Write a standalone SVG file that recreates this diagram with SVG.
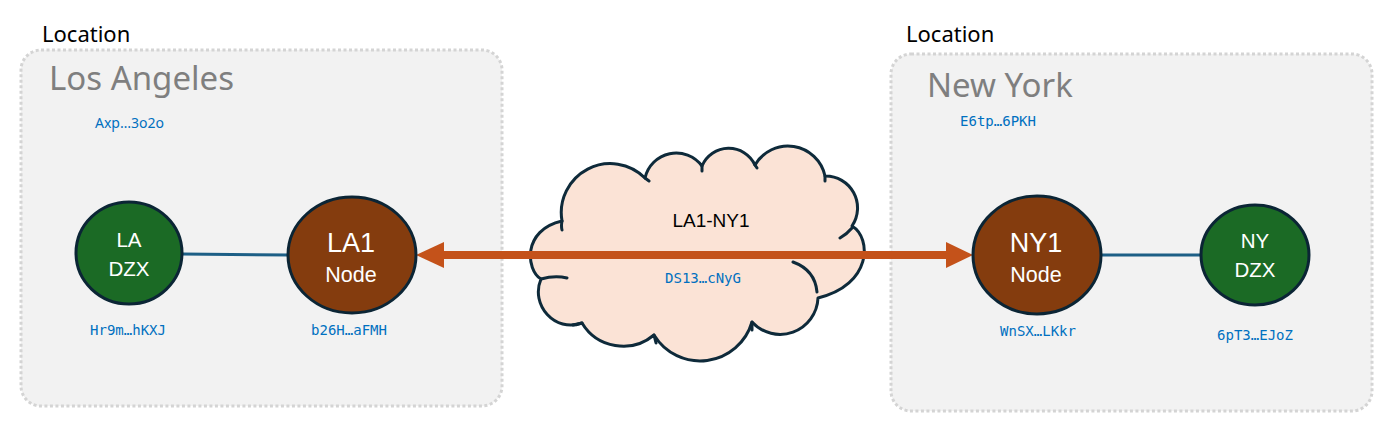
<svg xmlns="http://www.w3.org/2000/svg" width="1385" height="431" viewBox="0 0 1385 431">
<style>
.box{fill:#f2f2f2;stroke:#d4d4d4;stroke-width:3;stroke-dasharray:3 2.5}
.loc{font-family:"Noto Sans",sans-serif;font-size:22px;fill:#000}
.city{font-family:"Noto Sans",sans-serif;font-size:33px;fill:#7f7f7f}
.key{font-family:"DejaVu Sans Mono",monospace;font-size:14px;fill:#0070c0;text-anchor:middle}
.keyp{font-family:"Noto Sans",sans-serif;font-size:14px;fill:#0070c0}
.dzx{fill:#1b6a25;stroke:#0b2535;stroke-width:3}
.node{fill:#843c0e;stroke:#0b2535;stroke-width:3}
.nt{font-family:"Liberation Sans",Arial,sans-serif;fill:#fff;text-anchor:middle}
.link{stroke:#1d5f86;stroke-width:3;fill:none}
.arrow{stroke:#c4521a;stroke-width:8;fill:none}
.head{fill:#c4521a}
.cloud{fill:#fbe3d6;stroke:#0e2a3a;stroke-width:3;stroke-linejoin:round}
.tick{fill:none;stroke:#0e2a3a;stroke-width:3;stroke-linecap:round}
</style>
<g id="la-location">
<text class="loc" x="42" y="42">Location</text>
<rect class="box" x="21" y="50" width="481" height="356" rx="20"/>
<text class="city" x="49" y="90">Los Angeles</text>
<text class="keyp" x="95" y="128">Axp…3o2o</text>
</g>
<g id="ny-location">
<text class="loc" x="906" y="42">Location</text>
<rect class="box" x="891" y="54" width="481" height="357" rx="20"/>
<text class="city" x="927" y="97">New York</text>
<text class="key" x="998" y="126">E6tp…6PKH</text>
</g>
<g id="connectors">
<line class="link" x1="182" y1="254" x2="290" y2="255"/>
<line class="link" x1="1100" y1="255" x2="1202" y2="255"/>
</g>
<g id="cloud">
<path class="cloud" d="M562,221 A49 49 0 0 1 645,178 A32 32 0 0 1 702,166 A29 29 0 0 1 755,165 A38 38 0 0 1 825,176 A32 32 0 0 1 852,226 C872,238 872,285 818,298 A38 38 0 0 1 752,322 A54 54 0 0 1 654,335 A48 48 0 0 1 582,323 C555,333 530,305 541,279 C526,270 522,230 562,221 Z"/>
<path class="tick" d="M562,221 Q561,226 562,230 M645,178 L649,181 M702,166 L702,171 M755,165 L757,168 M825,176 L825,181 M852,228 Q847,234 840,238 M793,262 Q815,270 817,292 M752,322 L752,330 M654,335 L656,343 M582,323 L573,325 M541,279 Q555,275 567,278"/>
<text class="nt" x="711" y="227" style="fill:#000;font-size:19px">LA1-NY1</text>
<text class="key" x="703" y="283">DS13…cNyG</text>
</g>
<g id="link-arrow">
<line class="arrow" x1="440" y1="255" x2="950" y2="255"/>
<polygon class="head" points="416,255 444,242 444,268"/>
<polygon class="head" points="973,255 946,242 946,268"/>
</g>
<g id="la-dzx">
<ellipse class="dzx" cx="129" cy="253" rx="53" ry="51"/>
<text class="nt" x="129" y="247" style="font-size:20.5px">LA</text>
<text class="nt" x="129" y="276" style="font-size:20.5px">DZX</text>
<text class="key" x="128" y="335">Hr9m…hKXJ</text>
</g>
<g id="la1-node">
<ellipse class="node" cx="352" cy="255" rx="64" ry="58"/>
<text class="nt" x="351" y="252" style="font-size:27px">LA1</text>
<text class="nt" x="351" y="282" style="font-size:21.5px">Node</text>
<text class="key" x="349" y="335">b26H…aFMH</text>
</g>
<g id="ny1-node">
<ellipse class="node" cx="1037" cy="255" rx="64" ry="59"/>
<text class="nt" x="1036" y="252" style="font-size:27px">NY1</text>
<text class="nt" x="1036" y="282" style="font-size:21.5px">Node</text>
<text class="key" x="1038" y="336">WnSX…LKkr</text>
</g>
<g id="ny-dzx">
<ellipse class="dzx" cx="1255" cy="255" rx="54" ry="50"/>
<text class="nt" x="1255" y="248" style="font-size:20.5px">NY</text>
<text class="nt" x="1255" y="277" style="font-size:20.5px">DZX</text>
<text class="key" x="1255" y="340">6pT3…EJoZ</text>
</g>
</svg>
